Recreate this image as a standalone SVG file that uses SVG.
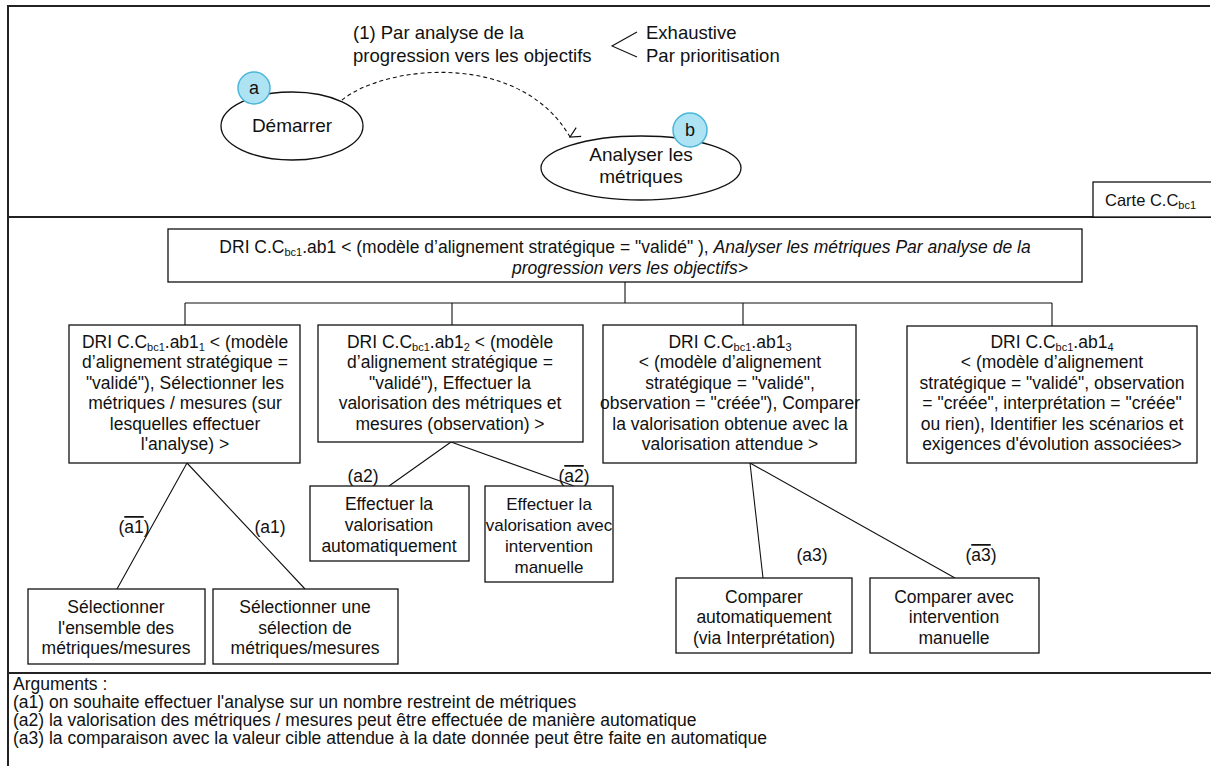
<svg xmlns="http://www.w3.org/2000/svg" width="1211" height="766" viewBox="0 0 1211 766">
<defs>
<style>
text{font-family:"Liberation Sans",Arial,sans-serif;fill:#111;}
.t{font-size:17.5px;text-anchor:middle;}
.s{font-size:18.5px;}
.arg{font-size:17.5px;}
.sub{font-size:11px;}
.box{fill:#fff;stroke:#111;stroke-width:1.3;}
.ln{stroke:#111;stroke-width:1.1;fill:none;}
.frame{stroke:#222;stroke-width:2;fill:none;}
.bub{fill:#aee3f3;stroke:#4bb6d9;stroke-width:1.5;}
.ov{text-decoration:overline;}
</style>
<marker id="arr" viewBox="0 0 12 12" refX="6" refY="11" markerWidth="12" markerHeight="12" markerUnits="userSpaceOnUse" orient="auto-start-reverse">
<path d="M1,1 L6,11 L11,1" fill="none" stroke="#111" stroke-width="1.2"/>
</marker>
</defs>
<rect width="1211" height="766" fill="#fff"/>
<g id="frame">
<path class="frame" d="M8,766 V6 H1210"/>
<line class="frame" x1="8" y1="217" x2="1211" y2="217"/>
<line class="frame" x1="8" y1="673" x2="1211" y2="673"/>
</g>
<g id="carte">
<rect x="1093" y="182" width="120" height="35" class="box"/>
<text x="1105" y="206" style="font-size:16.5px">Carte C.C<tspan class="sub" dy="3">bc1</tspan></text>
</g>
<g id="connectors">
<path class="ln" d="M342,100 C385,65 520,50 570,137" stroke-dasharray="4,3" marker-end="url(#arr)"/>
<path class="ln" d="M637,32 L612,46 L637,57"/>
<path class="ln" d="M625,282 V303 M185,303 H1052 M185,303 V325 M452,303 V325 M743,303 V325 M1052,303 V326"/>
<path class="ln" d="M187,463 L117,589 M187,463 L305,589"/>
<path class="ln" d="M451,442 L389,486 M451,442 L574,486"/>
<path class="ln" d="M750,463 L763,578 M750,463 L955,578"/>
</g>
<g id="labels">
<text class="s" x="353" y="39">(1) Par analyse de la</text>
<text class="s" x="353" y="62">progression vers les objectifs</text>
<text class="s" x="646" y="39">Exhaustive</text>
<text class="s" x="646" y="62">Par prioritisation</text>
<text class="t" x="134" y="533">(<tspan class="ov">a1</tspan>)</text>
<text class="t" x="270" y="533">(a1)</text>
<text class="t" x="363" y="482">(a2)</text>
<text class="t" x="574" y="482">(<tspan class="ov">a2</tspan>)</text>
<text class="t" x="812" y="561">(a3)</text>
<text class="t" x="981" y="561">(<tspan class="ov">a3</tspan>)</text>
</g>
<g id="n-demarrer">
<ellipse cx="292" cy="126" rx="71" ry="34" class="box"/>
<text class="t" x="292" y="132" style="font-size:19px">Démarrer</text>
<circle cx="254" cy="88" r="16" class="bub"/>
<text class="t" x="254" y="94" style="font-size:18px">a</text>
</g>
<g id="n-analyser">
<ellipse cx="641" cy="168" rx="100" ry="32" class="box"/>
<text class="t" x="641" y="161" style="font-size:19px">Analyser les</text>
<text class="t" x="641" y="183" style="font-size:19px">métriques</text>
<circle cx="690" cy="130" r="17" class="bub"/>
<text class="t" x="690" y="136" style="font-size:18px">b</text>
</g>
<g id="n-root">
<rect x="168" y="229" width="914" height="53" class="box"/>
<text class="t" x="625" y="253">DRI C.C<tspan class="sub" dy="3">bc1</tspan><tspan dy="-3">.ab1 &lt; (modèle d’alignement  stratégique = "validé" ), </tspan><tspan font-style="italic">Analyser les métriques  Par analyse de la</tspan></text>
<text class="t" x="630" y="274" font-style="italic">progression vers les objectifs&gt;</text>
</g>
<g id="n-ab11">
<rect x="69" y="325" width="231" height="138" class="box"/>
<text class="t" x="185" y="348">DRI C.C<tspan class="sub" dy="3">bc1</tspan><tspan dy="-3">.ab1</tspan><tspan class="sub" dy="3">1</tspan><tspan dy="-3"> &lt; (modèle</tspan></text>
<text class="t" x="185" y="368">d’alignement stratégique  =</text>
<text class="t" x="185" y="389">"validé"), Sélectionner les</text>
<text class="t" x="185" y="409">métriques / mesures (sur</text>
<text class="t" x="185" y="430">lesquelles effectuer</text>
<text class="t" x="185" y="450">l'analyse) &gt;</text>
</g>
<g id="n-ab12">
<rect x="318" y="325" width="265" height="117" class="box"/>
<text class="t" x="450" y="348">DRI C.C<tspan class="sub" dy="3">bc1</tspan><tspan dy="-3">.ab1</tspan><tspan class="sub" dy="3">2</tspan><tspan dy="-3"> &lt; (modèle</tspan></text>
<text class="t" x="450" y="368">d’alignement stratégique  =</text>
<text class="t" x="450" y="389">"validé"), Effectuer la</text>
<text class="t" x="450" y="409">valorisation des métriques et</text>
<text class="t" x="450" y="430">mesures (observation) &gt;</text>
</g>
<g id="n-ab13">
<rect x="603" y="325" width="253" height="138" class="box"/>
<text class="t" x="730" y="348">DRI C.C<tspan class="sub" dy="3">bc1</tspan><tspan dy="-3">.ab1</tspan><tspan class="sub" dy="3">3</tspan></text>
<text class="t" x="730" y="368">&lt; (modèle d’alignement</text>
<text class="t" x="730" y="389">stratégique = "validé",</text>
<text class="t" x="730" y="409">observation = "créée"), Comparer</text>
<text class="t" x="730" y="430">la valorisation obtenue avec la</text>
<text class="t" x="730" y="450">valorisation attendue &gt;</text>
</g>
<g id="n-ab14">
<rect x="907" y="326" width="290" height="137" class="box"/>
<text class="t" x="1052" y="348">DRI C.C<tspan class="sub" dy="3">bc1</tspan><tspan dy="-3">.ab1</tspan><tspan class="sub" dy="3">4</tspan></text>
<text class="t" x="1052" y="368">&lt; (modèle d’alignement</text>
<text class="t" x="1052" y="389">stratégique = "validé", observation</text>
<text class="t" x="1052" y="409">= "créée", interprétation = "créée"</text>
<text class="t" x="1052" y="430">ou rien), Identifier les scénarios et</text>
<text class="t" x="1052" y="450">exigences d'évolution associées&gt;</text>
</g>
<g id="n-sel-all">
<rect x="28" y="589" width="177" height="75" class="box"/>
<text class="t" x="116" y="613">Sélectionner</text>
<text class="t" x="116" y="634">l'ensemble des</text>
<text class="t" x="116" y="654">métriques/mesures</text>
</g>
<g id="n-sel-some">
<rect x="213" y="589" width="185" height="75" class="box"/>
<text class="t" x="305" y="613">Sélectionner une</text>
<text class="t" x="305" y="634">sélection de</text>
<text class="t" x="305" y="654">métriques/mesures</text>
</g>
<g id="n-val-auto">
<rect x="310" y="486" width="159" height="75" class="box"/>
<text class="t" x="389" y="510">Effectuer la</text>
<text class="t" x="389" y="531">valorisation</text>
<text class="t" x="389" y="552">automatiquement</text>
</g>
<g id="n-val-man">
<rect x="485" y="486" width="128" height="96" class="box"/>
<text class="t" x="549" y="510" style="font-size:17px">Effectuer la</text>
<text class="t" x="549" y="531" style="font-size:17px">valorisation avec</text>
<text class="t" x="549" y="552" style="font-size:17px">intervention</text>
<text class="t" x="549" y="573" style="font-size:17px">manuelle</text>
</g>
<g id="n-cmp-auto">
<rect x="676" y="578" width="176" height="75" class="box"/>
<text class="t" x="764" y="603">Comparer</text>
<text class="t" x="764" y="623">automatiquement</text>
<text class="t" x="764" y="644">(via Interprétation)</text>
</g>
<g id="n-cmp-man">
<rect x="870" y="578" width="169" height="75" class="box"/>
<text class="t" x="954" y="603">Comparer avec</text>
<text class="t" x="954" y="623">intervention</text>
<text class="t" x="954" y="644">manuelle</text>
</g>
<g id="arguments">
<text class="arg" x="13" y="690">Arguments :</text>
<text class="arg" x="13" y="708">(a1) on souhaite  effectuer l'analyse sur un nombre restreint de métriques</text>
<text class="arg" x="13" y="726">(a2) la valorisation  des métriques / mesures peut être effectuée de manière automatique</text>
<text class="arg" x="13" y="744">(a3) la comparaison avec la valeur cible attendue à la date donnée peut être faite en automatique</text>
</g>
</svg>
